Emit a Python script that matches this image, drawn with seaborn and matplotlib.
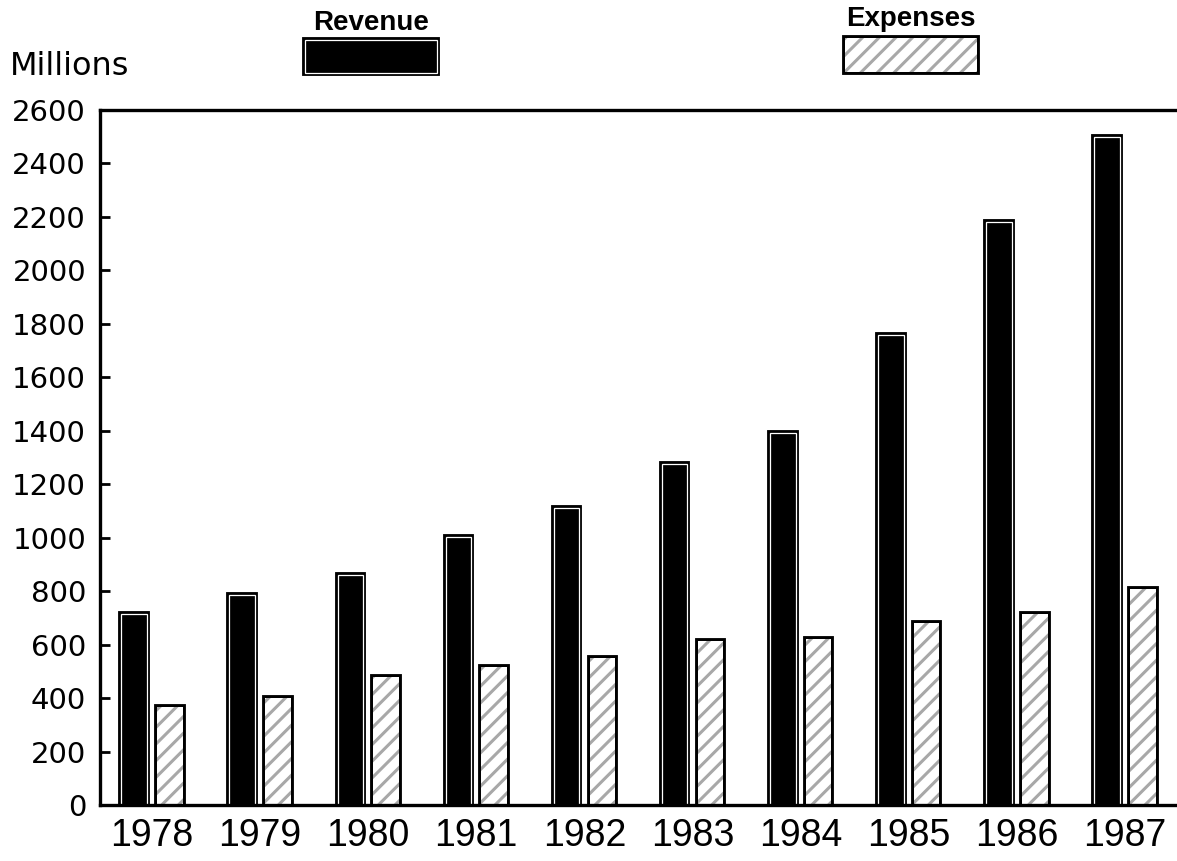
import numpy as np
import pandas as pd
import seaborn as sns
import matplotlib
matplotlib.use("Agg")
import matplotlib.pyplot as plt
import matplotlib.patheffects as pe
from matplotlib.patches import Rectangle

# ---- data ----
years = ["1978", "1979", "1980", "1981", "1982", "1983", "1984", "1985", "1986", "1987"]
revenue = [715, 785, 862, 1003, 1112, 1277, 1392, 1758, 2180, 2500]
expenses = [366, 400, 478, 516, 550, 613, 620, 681, 714, 807]
series_names = ["Revenue", "Expenses"]
y_ticks = [0, 200, 400, 600, 800, 1000, 1200, 1400, 1600, 1800, 2000, 2200, 2400, 2600]

df = pd.DataFrame({
    "year": years * 2,
    "series": [series_names[0]] * len(years) + [series_names[1]] * len(years),
    "value": revenue + expenses,
})

sns.set_theme(style="white")
plt.rcParams["font.family"] = ["DejaVu Sans"]
plt.rcParams["hatch.linewidth"] = 2.2

W, H = 1177, 861
fig = plt.figure(figsize=(W / 100, H / 100), dpi=100)
ax = fig.add_axes([100 / W, (H - 805) / H, (W - 100) / W, (805 - 110) / H])

sns.barplot(data=df, x="year", y="value", hue="series", order=years,
            hue_order=series_names,
            palette={"Revenue": "black", "Expenses": "white"},
            width=0.66, gap=0.285, saturation=1, legend=False, ax=ax)

rev_fx = [pe.Stroke(linewidth=4.2, foreground="black"), pe.Normal()]
exp_fx = [pe.Stroke(linewidth=4.2, foreground="black"), pe.Normal()]
hatch_grey = "#a8a8a8"

for bar in ax.containers[0]:
    bar.set_facecolor("black")
    bar.set_edgecolor("white")
    bar.set_linewidth(0.9)
    bar.set_path_effects(rev_fx)
for bar in ax.containers[1]:
    bar.set_facecolor("white")
    bar.set_edgecolor(hatch_grey)
    bar.set_hatch("//")
    bar.set_linewidth(0)
    bar.set_path_effects(exp_fx)

ax.set_ylim(0, 2600)
ax.set_xlim(-0.48, 9.48)
ax.set_yticks(y_ticks)
ax.set_yticklabels([str(t) for t in y_ticks], fontsize=21, family="DejaVu Sans")
ax.set_xticks(range(len(years)))
ax.set_xticklabels(years, fontsize=27, family="Liberation Sans")
ax.tick_params(axis="y", direction="in", length=7, width=2, color="black", pad=10,
               left=True, labelcolor="black")
ax.tick_params(axis="x", length=0, pad=9, labelcolor="black")
ax.set_xlabel("")
ax.set_ylabel("")

for side in ["left", "top", "bottom"]:
    ax.spines[side].set_visible(True)
    ax.spines[side].set_color("black")
    ax.spines[side].set_linewidth(2.4)
ax.spines["right"].set_visible(False)

# "Millions" unit label
fig.text(10 / W, 1 - 75 / H, "Millions", fontsize=23, family="DejaVu Sans",
         ha="left", va="baseline", color="black")

# legend: label above a sample box
leg_items = [
    ("Revenue", 305, 437, 40, 73, 30),
    ("Expenses", 845, 977, 38, 72, 26),
]
for name, x0, x1, yt, yb, base in leg_items:
    rect = Rectangle((x0 / W, 1 - yb / H), (x1 - x0) / W, (yb - yt) / H,
                     transform=fig.transFigure)
    if name == "Revenue":
        rect.set_facecolor("black")
        rect.set_edgecolor("white")
        rect.set_linewidth(0.9)
        rect.set_path_effects(rev_fx)
    else:
        rect.set_facecolor("white")
        rect.set_edgecolor(hatch_grey)
        rect.set_hatch("//")
        rect.set_linewidth(0)
        rect.set_path_effects(exp_fx)
    fig.add_artist(rect)
    fig.text((x0 + x1) / 2 / W, 1 - base / H, name, fontsize=20,
             family="Liberation Sans", fontweight="bold",
             ha="center", va="baseline", color="black")

fig.savefig("out.png", dpi=100, facecolor="white")
